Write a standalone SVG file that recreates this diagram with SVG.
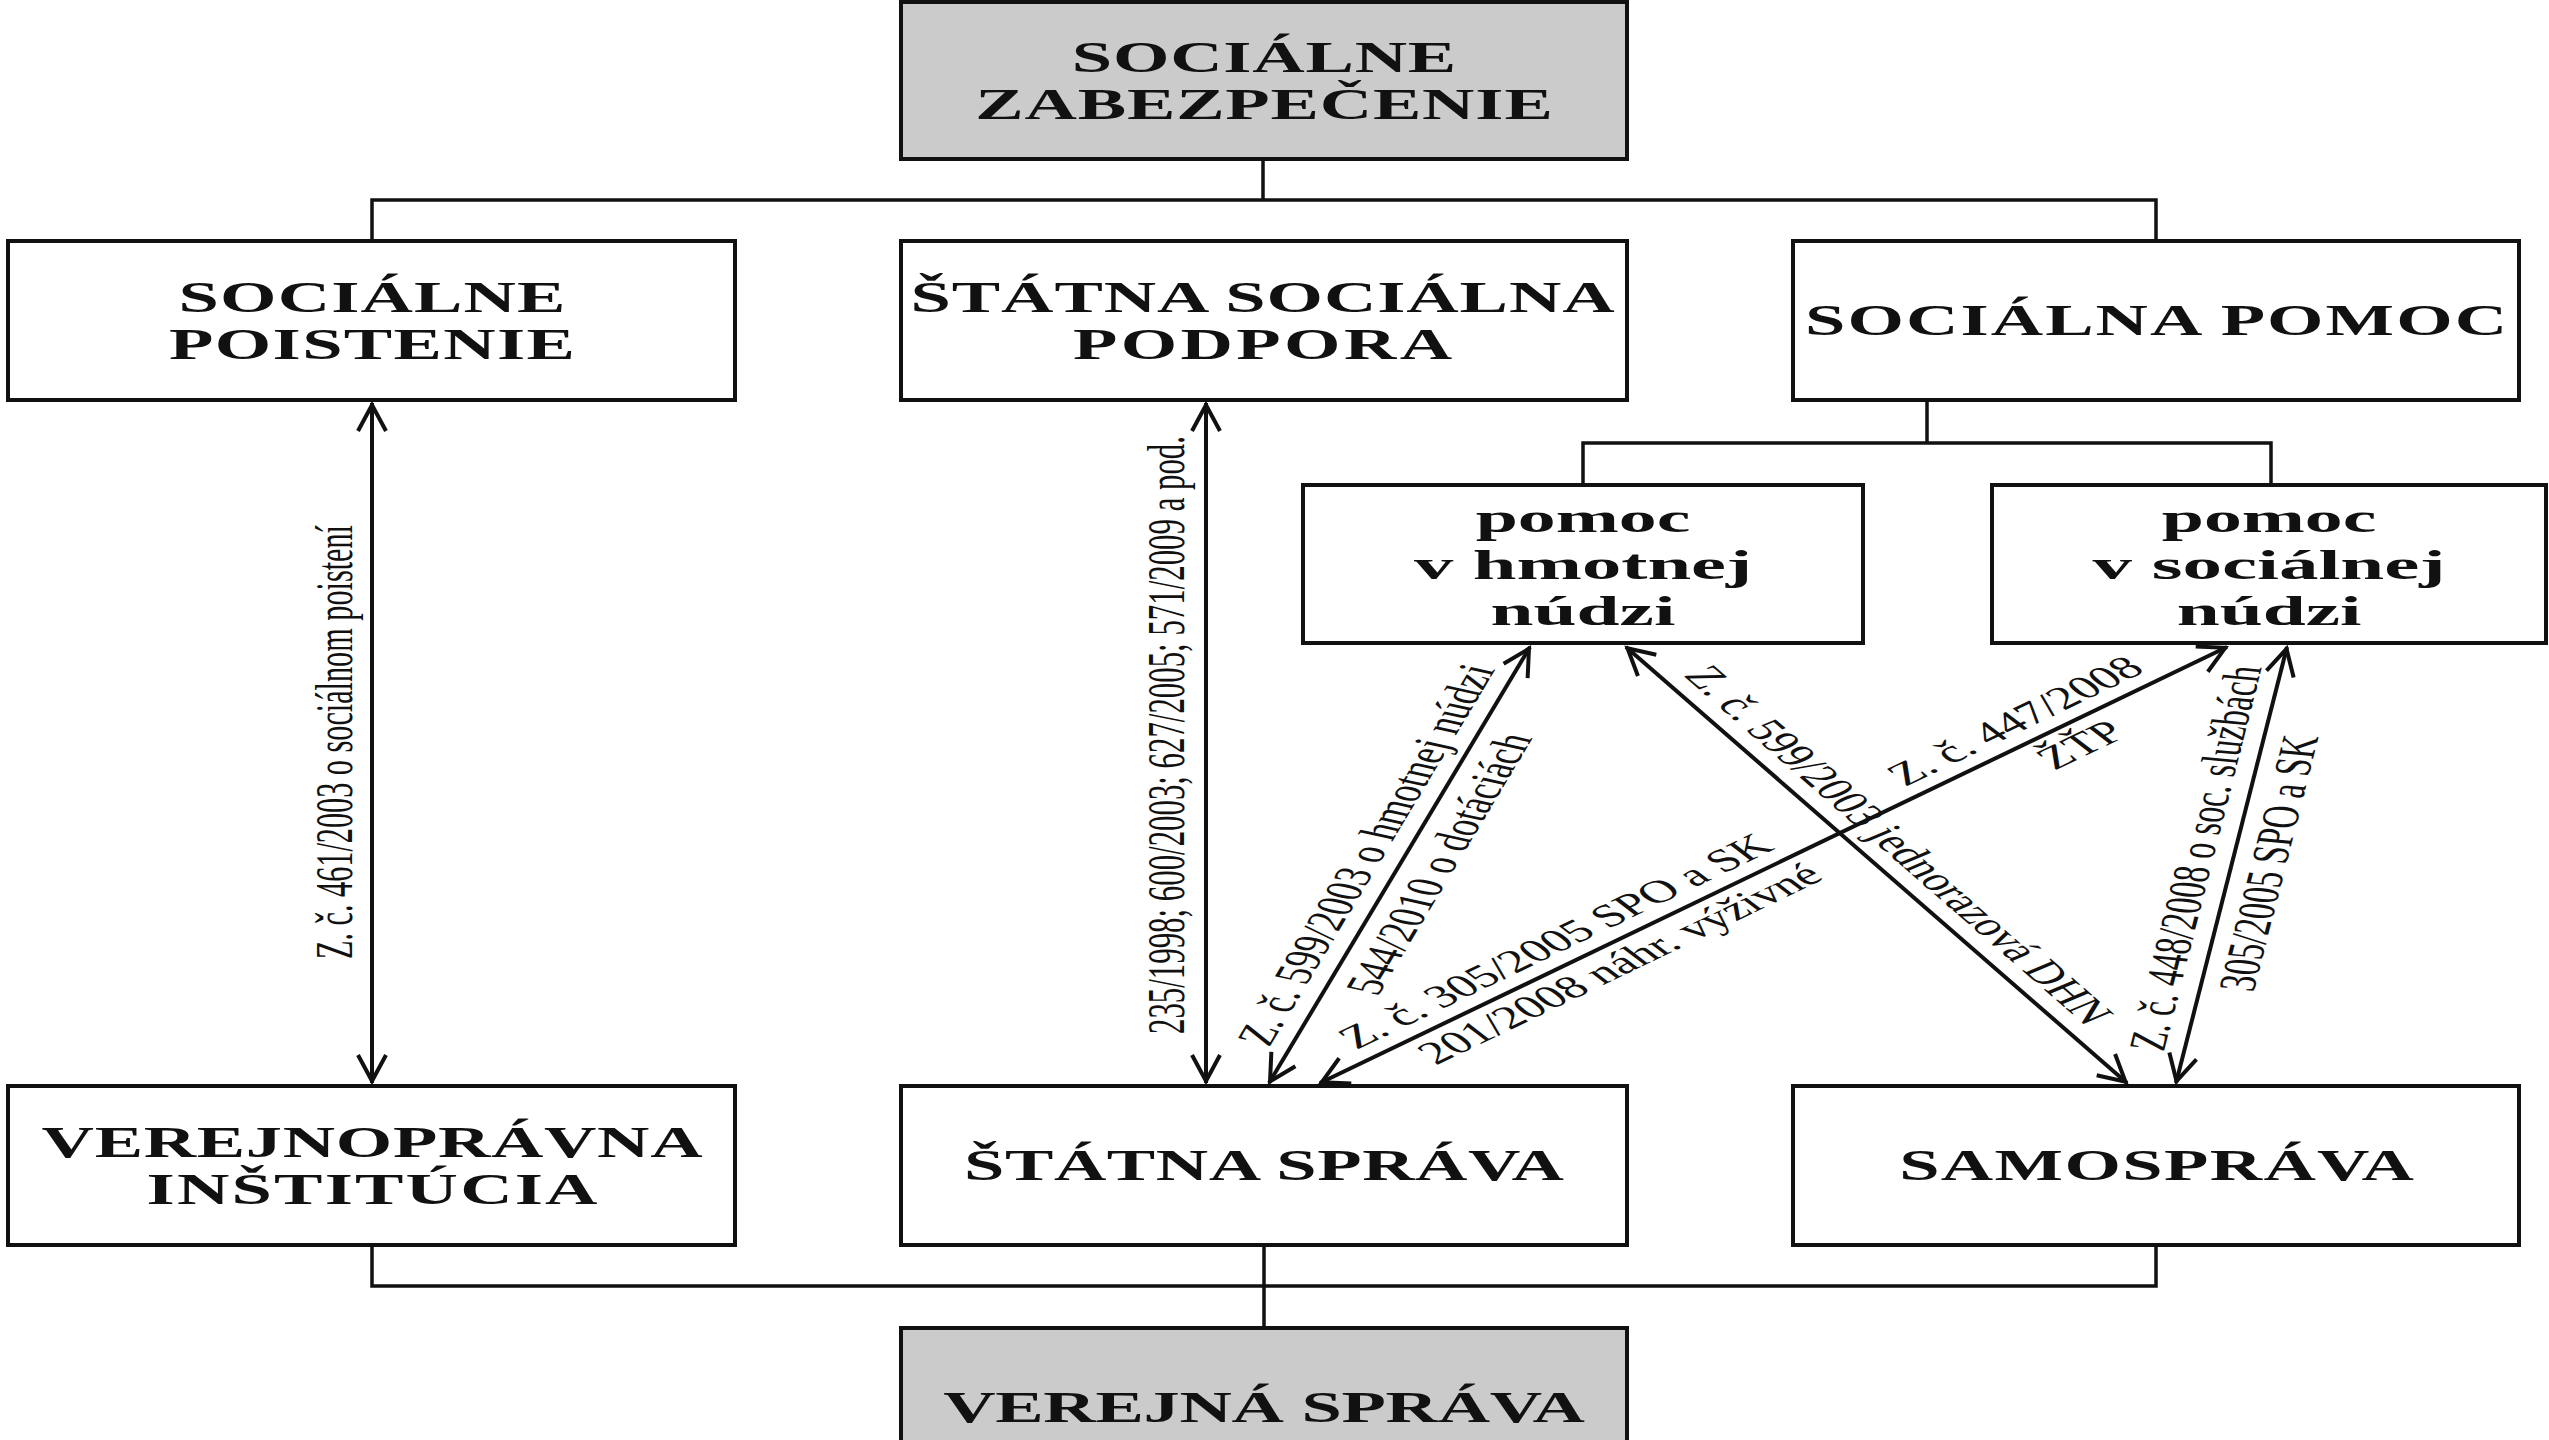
<svg xmlns="http://www.w3.org/2000/svg" width="2549" height="1440" viewBox="0 0 2549 1440">
<style>
.box{fill:#ffffff;stroke:#111;stroke-width:4}
.grey{fill:#cbcbcb}
.conn{fill:none;stroke:#111;stroke-width:3.5}
.arr{fill:none;stroke:#111;stroke-width:4;marker-start:url(#ah);marker-end:url(#ah)}
.t{font-family:"Liberation Serif","Times New Roman",serif;font-weight:bold;font-size:44px;fill:#111;text-anchor:middle}
.tl{font-family:"Liberation Serif","Times New Roman",serif;font-weight:bold;font-size:42px;fill:#111;text-anchor:middle}
.lab{font-family:"Liberation Serif","Times New Roman",serif;font-size:32px;fill:#111;text-anchor:middle}
</style>
<defs>
<marker id="ah" viewBox="-34 -20 40 40" refX="2" refY="0" markerWidth="40" markerHeight="40" markerUnits="userSpaceOnUse" orient="auto-start-reverse">
<path d="M-26,-14 L0,0 L-26,14" fill="none" stroke="#111" stroke-width="4"/>
</marker>
</defs>
<rect width="2549" height="1440" fill="#fff"/>

<g id="connectors">
<path class="conn" d="M1263,159 V200 M372,241 V200 H2156 V241"/>
<path class="conn" d="M1927,401 V443 M1583,485 V443 H2271 V485"/>
<path class="conn" d="M372,1245 V1286 H2156 V1245 M1264,1245 V1328"/>
<path class="arr" d="M372,403 L372,1083"/>
<path class="arr" d="M1206,403 L1206,1083"/>
<path class="arr" d="M1269,1083 L1530,647"/>
<path class="arr" d="M1320,1083 L2227,647"/>
<path class="arr" d="M1626,647 L2127,1083"/>
<path class="arr" d="M2176,1083 L2287,647"/>
<g id="connector-labels" transform="scale(1.65 1)">
<text class="lab" transform="translate(213.3,742) rotate(-90)" textLength="434" lengthAdjust="spacingAndGlyphs">Z. č. 461/2003 o sociálnom poistení</text>
<text class="lab" transform="translate(717.6,735) rotate(-90)" textLength="598" lengthAdjust="spacingAndGlyphs">235/1998; 600/2003; 627/2005; 571/2009 a pod.</text>
<text class="lab" transform="translate(837.8,858.4) rotate(-70.06)">Z. č. 599/2003 o hmotnej núdzi</text>
<text class="lab" transform="translate(882,867.3) rotate(-70.06)">544/2010 o dotáciách</text>
<text class="lab" transform="translate(949.2,949.3) rotate(-38.42)">Z. č. 305/2005 SPO a SK</text>
<text class="lab" transform="translate(988.2,972) rotate(-38.42)">201/2008 náhr. výživné</text>
<text class="lab" transform="translate(1227.8,729) rotate(-38.42)">Z. č. 447/2008</text>
<text class="lab" transform="translate(1267.5,753) rotate(-38.42)">ŽŤP</text>
<text class="lab" transform="translate(1142.2,851) rotate(55.15)">Z. č. 599/2003 jednorazová DHN</text>
<text class="lab" transform="translate(1341.1,859.8) rotate(-81.23)">Z. č. 448/2008 o soc. službách</text>
<text class="lab" transform="translate(1385.5,864.6) rotate(-81.23)">305/2005 SPO a SK</text>
</g>
</g>

<g id="socialne-zabezpecenie">
<rect class="box grey" x="901" y="2" width="726" height="157"/>
<text class="t" transform="scale(1.65 1)" x="766.1" y="72" textLength="233" lengthAdjust="spacing">SOCIÁLNE</text>
<text class="t" transform="scale(1.65 1)" x="766.1" y="119" textLength="350" lengthAdjust="spacing">ZABEZPEČENIE</text>
</g>

<g id="socialne-poistenie">
<rect class="box" x="8" y="241" width="727" height="159"/>
<text class="t" transform="scale(1.65 1)" x="225.5" y="312" textLength="234.5" lengthAdjust="spacing">SOCIÁLNE</text>
<text class="t" transform="scale(1.65 1)" x="225.5" y="359" textLength="246" lengthAdjust="spacing">POISTENIE</text>
</g>

<g id="statna-socialna-podpora">
<rect class="box" x="901" y="241" width="726" height="159"/>
<text class="t" transform="scale(1.65 1)" x="765.2" y="312" textLength="426.7" lengthAdjust="spacing">ŠTÁTNA SOCIÁLNA</text>
<text class="t" transform="scale(1.65 1)" x="765.2" y="359" textLength="229.7" lengthAdjust="spacing">PODPORA</text>
</g>

<g id="socialna-pomoc">
<rect class="box" x="1793" y="241" width="726" height="159"/>
<text class="t" transform="scale(1.65 1)" x="1306.7" y="335" textLength="425.5" lengthAdjust="spacing">SOCIÁLNA POMOC</text>
</g>

<g id="pomoc-hmotnej-nudzi">
<rect class="box" x="1303" y="485" width="560" height="158"/>
<text class="tl" transform="scale(1.65 1)" x="959.4" y="532" textLength="130" lengthAdjust="spacingAndGlyphs">pomoc</text>
<text class="tl" transform="scale(1.65 1)" x="959.4" y="579" textLength="205" lengthAdjust="spacingAndGlyphs">v hmotnej</text>
<text class="tl" transform="scale(1.65 1)" x="959.4" y="625" textLength="112" lengthAdjust="spacingAndGlyphs">núdzi</text>
</g>

<g id="pomoc-socialnej-nudzi">
<rect class="box" x="1992" y="485" width="554" height="158"/>
<text class="tl" transform="scale(1.65 1)" x="1375.2" y="532" textLength="130" lengthAdjust="spacingAndGlyphs">pomoc</text>
<text class="tl" transform="scale(1.65 1)" x="1375.2" y="579" textLength="214" lengthAdjust="spacingAndGlyphs">v sociálnej</text>
<text class="tl" transform="scale(1.65 1)" x="1375.2" y="625" textLength="112" lengthAdjust="spacingAndGlyphs">núdzi</text>
</g>

<g id="verejnopravna-institucia">
<rect class="box" x="8" y="1086" width="727" height="159"/>
<text class="t" transform="scale(1.65 1)" x="225.5" y="1157" textLength="400.6" lengthAdjust="spacing">VEREJNOPRÁVNA</text>
<text class="t" transform="scale(1.65 1)" x="225.5" y="1204" textLength="273.3" lengthAdjust="spacing">INŠTITÚCIA</text>
</g>

<g id="statna-sprava">
<rect class="box" x="901" y="1086" width="726" height="159"/>
<text class="t" transform="scale(1.65 1)" x="766.1" y="1180" textLength="363.6" lengthAdjust="spacing">ŠTÁTNA SPRÁVA</text>
</g>

<g id="samosprava">
<rect class="box" x="1793" y="1086" width="726" height="159"/>
<text class="t" transform="scale(1.65 1)" x="1307" y="1180" textLength="312" lengthAdjust="spacing">SAMOSPRÁVA</text>
</g>

<g id="verejna-sprava">
<rect class="box grey" x="901" y="1328" width="726" height="140"/>
<text class="t" transform="scale(1.65 1)" x="766.1" y="1422" textLength="389" lengthAdjust="spacing">VEREJNÁ SPRÁVA</text>
</g>
</svg>
